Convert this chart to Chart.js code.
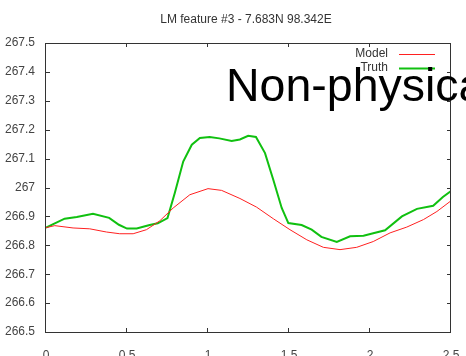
<!DOCTYPE html>
<html>
<head>
<meta charset="utf-8">
<script src="https://cdn.jsdelivr.net/npm/chart.js@4/dist/chart.umd.min.js"></script>
<style>
  html, body { margin: 0; padding: 0; background: #fff; overflow: hidden; }
  canvas { display: block; }
</style>
</head>
<body>
<canvas id="c" width="466" height="370"></canvas>
<script>
// values
const truthX = [0, 0.115, 0.19, 0.29, 0.39, 0.45, 0.50, 0.56, 0.64, 0.69, 0.75, 0.795, 0.847, 0.90, 0.95, 1.01, 1.07, 1.146, 1.197, 1.248, 1.296, 1.352, 1.403, 1.455, 1.496, 1.578, 1.64, 1.70, 1.795, 1.877, 1.96, 2.02, 2.093, 2.197, 2.29, 2.39, 2.45, 2.5];
const truthY = [266.861, 266.892, 266.898, 266.909, 266.895, 266.871, 266.858, 266.858, 266.870, 266.876, 266.894, 266.981, 267.090, 267.148, 267.171, 267.175, 267.170, 267.161, 267.166, 267.179, 267.175, 267.119, 267.027, 266.929, 266.877, 266.870, 266.854, 266.829, 266.812, 266.831, 266.833, 266.842, 266.852, 266.900, 266.926, 266.937, 266.967, 266.988];
const modelX = [0, 0.054, 0.167, 0.27, 0.373, 0.455, 0.538, 0.62, 0.703, 0.785, 0.888, 1.0, 1.084, 1.197, 1.30, 1.403, 1.506, 1.61, 1.712, 1.815, 1.918, 2.02, 2.124, 2.227, 2.33, 2.413, 2.5];
const modelY = [266.861, 266.868, 266.860, 266.857, 266.846, 266.840, 266.840, 266.854, 266.885, 266.929, 266.975, 266.996, 266.990, 266.962, 266.932, 266.892, 266.854, 266.819, 266.793, 266.785, 266.793, 266.813, 266.843, 266.863, 266.889, 266.917, 266.954];
const xTicks = [0, 0.5, 1, 1.5, 2, 2.5];
const yTicks = [266.5, 266.6, 266.7, 266.8, 266.9, 267, 267.1, 267.2, 267.3, 267.4, 267.5];
const seriesNames = ['Model', 'Truth'];
const seriesColors = ['#ff2020', '#10c010'];
const titleText = 'LM feature #3 - 7.683N 98.342E';
const stampText = 'Non-physical';

const FONT = '"Liberation Sans", Arial, sans-serif';
const fmt = v => String(Number(v.toFixed(1)));

// frame, inward ticks, x labels, title, legend and the big stamp (gnuplot look)
const frame = {
  id: 'frame',
  afterDraw(chart) {
    const ctx = chart.ctx;
    const a = chart.chartArea;
    const xs = chart.scales.x, ys = chart.scales.y;
    ctx.save();
    ctx.strokeStyle = '#333';
    ctx.lineWidth = 1;
    ctx.strokeRect(Math.round(a.left) - 0.5, Math.round(a.top) + 0.5, Math.round(a.right - a.left), Math.round(a.bottom - a.top));
    ctx.beginPath();
    xTicks.forEach(v => {
      const px = Math.round(xs.getPixelForValue(v)) - 0.5;
      ctx.moveTo(px, a.bottom); ctx.lineTo(px, a.bottom - 4);
      ctx.moveTo(px, a.top); ctx.lineTo(px, a.top + 4);
    });
    yTicks.forEach(v => {
      const py = Math.round(ys.getPixelForValue(v)) + 0.5;
      ctx.moveTo(a.left, py); ctx.lineTo(a.left + 4, py);
      ctx.moveTo(a.right, py); ctx.lineTo(a.right - 4, py);
    });
    ctx.stroke();

    ctx.font = '12px ' + FONT;
    ctx.textAlign = 'center';
    ctx.textBaseline = 'middle';
    ctx.fillStyle = '#444';
    xTicks.forEach(v => ctx.fillText(fmt(v), xs.getPixelForValue(v), a.bottom + 24));

    ctx.fillStyle = '#333';
    ctx.fillText(titleText, 246, 20);

    // legend
    ctx.textAlign = 'right';
    seriesNames.forEach((n, i) => {
      const y = 54 + i * 14;
      ctx.fillStyle = '#333';
      ctx.fillText(n, 388, y);
      ctx.strokeStyle = seriesColors[i];
      ctx.lineWidth = i === 0 ? 1 : 2;
      ctx.beginPath();
      ctx.moveTo(399, y + 0.5); ctx.lineTo(435, y + 0.5);
      ctx.stroke();
    });

    ctx.fillStyle = '#000';
    ctx.font = '46.5px ' + FONT;
    ctx.textAlign = 'left';
    ctx.textBaseline = 'alphabetic';
    ctx.fillText(stampText, 226, 101);
    ctx.restore();
  }
};

new Chart(document.getElementById('c'), {
  type: 'line',
  data: {
    datasets: [
      { label: seriesNames[0], data: modelX.map((x, i) => ({ x, y: modelY[i] })), borderColor: seriesColors[0], borderWidth: 1, pointRadius: 0, tension: 0 },
      { label: seriesNames[1], data: truthX.map((x, i) => ({ x, y: truthY[i] })), borderColor: seriesColors[1], borderWidth: 2, pointRadius: 0, tension: 0 }
    ]
  },
  options: {
    responsive: false,
    animation: false,
    layout: { padding: { top: 43, right: 15, left: 0, bottom: 0 } },
    plugins: { legend: { display: false }, title: { display: false }, tooltip: { enabled: false } },
    scales: {
      x: {
        type: 'linear', min: 0, max: 2.5,
        grid: { display: false, drawTicks: false }, border: { display: false },
        afterBuildTicks: s => { s.ticks = xTicks.map(v => ({ value: v })); },
        afterFit: s => { s.height = 38; },
        ticks: { display: false }
      },
      y: {
        min: 266.5, max: 267.5,
        grid: { display: false, drawTicks: false }, border: { display: false },
        afterBuildTicks: s => { s.ticks = yTicks.map(v => ({ value: v })); },
        afterFit: s => { s.width = 46; },
        ticks: { color: '#444', padding: 11, font: { family: FONT, size: 12 }, callback: fmt }
      }
    }
  },
  plugins: [frame]
});
</script>
</body>
</html>
